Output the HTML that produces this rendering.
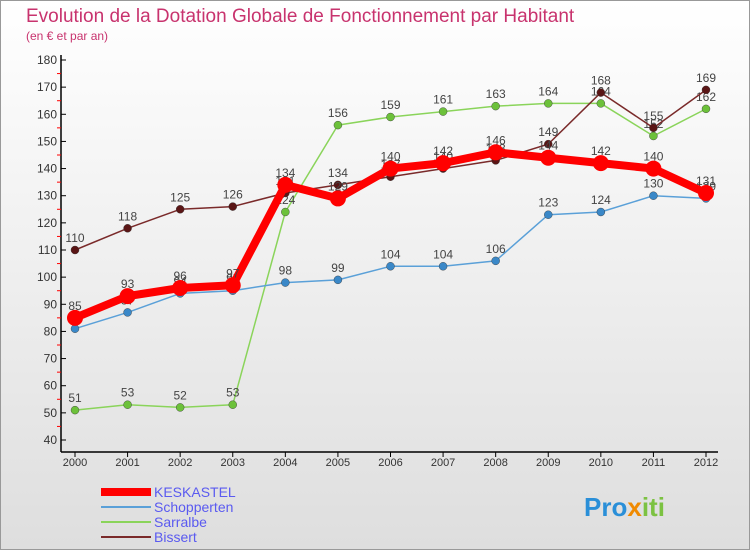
<!DOCTYPE html>
<html><head><meta charset="utf-8"><style>
body{margin:0;width:750px;height:550px;overflow:hidden;font-family:"Liberation Sans",sans-serif}
</style></head><body>
<svg width="750" height="550" xmlns="http://www.w3.org/2000/svg">
<defs><linearGradient id="bg" x1="0" y1="0" x2="0" y2="1"><stop offset="0" stop-color="#ffffff"/><stop offset="1" stop-color="#dedede"/></linearGradient></defs>
<rect x="0.5" y="0.5" width="749" height="549" fill="url(#bg)" stroke="#999"/>
<text x="26" y="22" font-size="19" fill="#c8336e">Evolution de la Dotation Globale de Fonctionnement par Habitant</text>
<text x="26" y="40" font-size="12" fill="#c8336e">(en € et par an)</text>
<g id="axes"></g><g id="series"></g><g id="legend"></g>
<text x="584" y="516" font-size="26" font-weight="bold"><tspan fill="#2a8fd8">Pro</tspan><tspan fill="#f08a00">x</tspan><tspan fill="#7cc242">iti</tspan></text>
</svg>
<script>
const years=[2000,2001,2002,2003,2004,2005,2006,2007,2008,2009,2010,2011,2012];
const yTicks=[40,50,60,70,80,90,100,110,120,130,140,150,160,170,180];
const keskastel=[85,93,96,97,134,129,140,142,146,144,142,140,131];
const schopperten=[81,87,94,95,98,99,104,104,106,123,124,130,129];
const sarralbe=[51,53,52,53,124,156,159,161,163,164,164,152,162];
const bissert=[110,118,125,126,131,134,137,140,143,149,168,155,169];
const NS="http://www.w3.org/2000/svg";
const X=i=>75+i*(631/12), Y=v=>440-(v-40)*(380/140);
function mk(t,a,p){const e=document.createElementNS(NS,t);for(const k in a)e.setAttribute(k,a[k]);p.appendChild(e);return e;}
const ax=document.getElementById('axes');
const yl=mk('line',{x1:61,y1:55,x2:61,y2:452,stroke:'#000','stroke-width':1.5},ax);


const xl=mk('line',{x1:61,y1:452,x2:718,y2:452,stroke:'#000','stroke-width':1.5},ax);


yTicks.forEach(v=>{mk('line',{x1:61,x2:66,y1:Y(v),y2:Y(v),stroke:'#000'},ax);
 if(v<180)mk('line',{x1:57,x2:61,y1:Y(v+5),y2:Y(v+5),stroke:'#f00'},ax);
 const t=mk('text',{x:57,y:Y(v)+4,'font-size':12,fill:'#333','text-anchor':'end'},ax);t.textContent=v;
 
 });
years.forEach((y,i)=>{mk('line',{x1:X(i),x2:X(i),y1:452,y2:457,stroke:'#000'},ax);
 const t=mk('text',{x:X(i),y:466,'font-size':11,fill:'#333','text-anchor':'middle'},ax);t.textContent=y;
 
 });
const S=document.getElementById('series');
const defs=[[sarralbe,'#8ad45a','#6cc13a',1.5,4,'sarralbe'],[schopperten,'#5aa0d8','#3a88c8',1.5,4,'schopperten'],[bissert,'#7a2a2a','#5a1515',1.5,4,'bissert'],[keskastel,'#f00','#f00',8,8,'keskastel']];
defs.forEach(([d,c,mc,w,r,n])=>{
 const g=mk('g',{},S);
 
 
 mk('polyline',{points:d.map((v,i)=>X(i)+','+Y(v)).join(' '),fill:'none',stroke:c,'stroke-width':w,'stroke-linejoin':'round'},g);
 d.forEach((v,i)=>{const p=mk('circle',{cx:X(i),cy:Y(v),r:r,fill:mc,stroke:r>5?'none':'#333','stroke-width':0.4},g);
  
  
  const t=mk('text',{x:X(i),y:Y(v)-8,'font-size':12,fill:'#444','text-anchor':'middle'},g);t.textContent=v;});
});
const L=document.getElementById('legend');
[['KESKASTEL','#f00',8],['Schopperten','#5aa0d8',2],['Sarralbe','#8ad45a',2],['Bissert','#7a2a2a',2]].forEach(([n,c,w],i)=>{
 const g=mk('g',{},L);
 
 
 const y=492+i*15;
 mk('line',{x1:101,x2:151,y1:y,y2:y,stroke:c,'stroke-width':w},g);
 const t=mk('text',{x:154,y:y+5,'font-size':14,fill:'#5a5af0'},g);t.textContent=n;});
</script>
</body></html>
